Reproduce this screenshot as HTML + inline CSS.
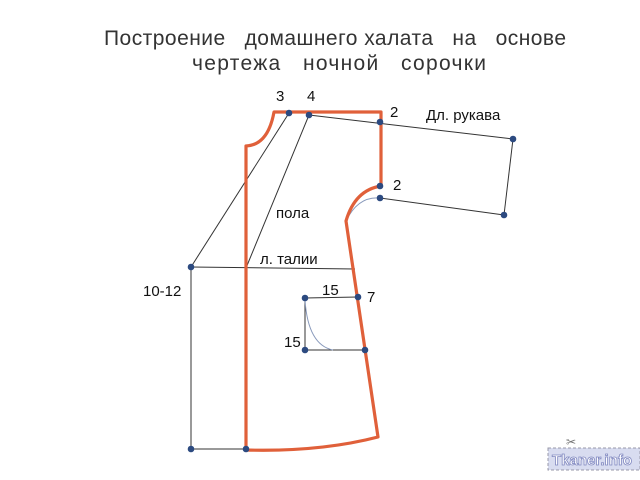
<!DOCTYPE html>
<html><head><meta charset="utf-8"><style>body{margin:0;background:#fff}svg{display:block}</style></head><body>
<svg width="640" height="480" viewBox="0 0 640 480" font-family="Liberation Sans, DejaVu Sans, sans-serif">
<rect width="640" height="480" fill="#fff"/>
<text x="104" y="45" font-size="21" fill="#333" style="white-space:pre" textLength="462" lengthAdjust="spacing">Построение   домашнего халата   на   основе</text>
<text x="192" y="70" font-size="21" fill="#333" style="white-space:pre" textLength="294" lengthAdjust="spacing">чертежа   ночной   сорочки</text>
<g stroke="#333" stroke-width="1" fill="none">
<line x1="309" y1="115" x2="513" y2="139"/>
<line x1="513" y1="139" x2="504" y2="215"/>
<line x1="380" y1="198" x2="504" y2="215"/>
<line x1="289" y1="113" x2="191" y2="267"/>
<line x1="309" y1="115" x2="246" y2="268"/>
<line x1="191" y1="267" x2="355" y2="269"/>
<line x1="191" y1="267" x2="191" y2="449"/>
<line x1="191" y1="449" x2="246" y2="449"/>
<line x1="305" y1="298" x2="358" y2="297"/>
<line x1="305" y1="298" x2="305" y2="350"/>
<line x1="305" y1="350" x2="365" y2="350"/>
</g>
<path d="M305 300 Q308 345 333 350" stroke="#8899bb" fill="none"/>
<path d="M346 221 Q358 196 380 198" stroke="#8899bb" fill="none"/>
<path d="M246 450 L246 146 Q268 145 274 112 L381 112 L381 186 Q355 190 346 221 L378 437 Q320 452 246 450 Z" stroke="#e0603a" stroke-width="3.2" fill="none" stroke-linejoin="round"/>
<g fill="#2c4a80">
<circle cx="289" cy="113" r="3.3"/><circle cx="309" cy="115" r="3.3"/><circle cx="380" cy="122" r="3.3"/>
<circle cx="513" cy="139" r="3.3"/><circle cx="504" cy="215" r="3.3"/><circle cx="380" cy="198" r="3.3"/>
<circle cx="380" cy="186" r="3.3"/><circle cx="191" cy="267" r="3.3"/><circle cx="191" cy="449" r="3.3"/>
<circle cx="246" cy="449" r="3.3"/><circle cx="305" cy="298" r="3.3"/><circle cx="358" cy="297" r="3.3"/>
<circle cx="305" cy="350" r="3.3"/><circle cx="365" cy="350" r="3.3"/>
</g>
<g font-size="15" fill="#111">
<text x="276" y="101">3</text><text x="307" y="101">4</text>
<text x="390" y="117">2</text><text x="426" y="120">Дл. рукава</text>
<text x="393" y="190">2</text>
<text x="276" y="218">пола</text>
<text x="260" y="264">л. талии</text>
<text x="143" y="296">10-12</text>
<text x="322" y="295">15</text><text x="367" y="302">7</text>
<text x="284" y="347">15</text>
</g>
<rect x="548" y="448" width="92" height="22" fill="#d8dcf0" stroke="#99a" stroke-dasharray="3,2"/>
<text x="552" y="465" font-size="15" font-weight="bold" fill="#fff" stroke="#8088c0" stroke-width="0.8">Tkaner.info</text>
<text x="566" y="446" font-size="12" fill="#777">✂</text>
</svg>
</body></html>
